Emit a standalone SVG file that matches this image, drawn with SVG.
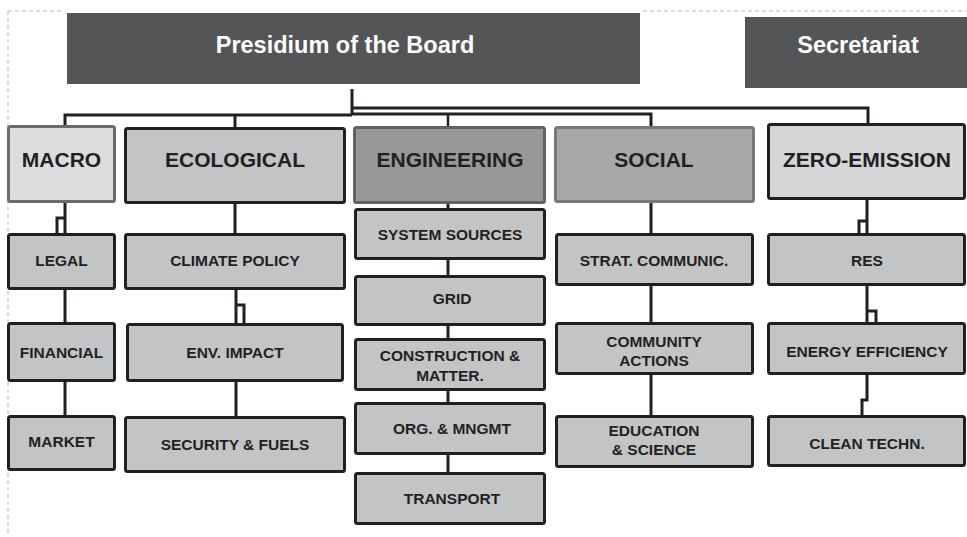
<svg xmlns="http://www.w3.org/2000/svg" width="967" height="537" viewBox="0 0 967 537">
<style>
text{font-family:"Liberation Sans",Arial,sans-serif;font-weight:bold;fill:#231f20;text-anchor:middle}
.top rect{fill:#545557}
.top text{fill:#fff;font-size:23.5px}
.cat text{font-size:21px}
.sub rect{fill:#c3c4c6;stroke:#231f20;stroke-width:3}
.sub text{font-size:15.5px}
.cat rect{stroke-width:3}
#conn path{fill:none;stroke:#231f20;stroke-width:3}
.border{fill:none;stroke:#b5b5b5;stroke-width:1;stroke-dasharray:4 3}
</style>
<rect width="967" height="537" fill="#fff"/>
<path class="border" d="M8,11 H63 M643,11 H967 M8,11 V533"/>
<g id="conn">
<path d="M352,89 V115"/>
<path d="M65,126 V115 H352"/>
<path d="M235,115 V128"/>
<path d="M352,114 H651 V127"/>
<path d="M448,114 V127" style="stroke-width:2.5"/>
<path d="M352,108 H868 V124"/>
<path d="M65,203 V234 M57,234 V218 H65"/>
<path d="M65,290 V323 M65,382 V416"/>
<path d="M235,204 V234 M236,290 V324 M236,305 H244 V324 M236,382 V417"/>
<path d="M448,204 V209 M448,260 V276 M448,326 V339 M448,391 V403 M448,455 V473"/>
<path d="M651,203 V234 M651,286 V323 M651,375 V416"/>
<path d="M867,200 V234 M859,234 V221 H867 M867,286 V323 M867,311 H876 V323 M867,375 V400 H862 V416"/>
</g>
<g id="presidium" class="top"><rect x="67" y="13" width="573" height="71"/><text x="345" y="53">Presidium of the Board</text></g>
<g id="secretariat" class="top"><rect x="745" y="17" width="222" height="71"/><text x="858" y="53">Secretariat</text></g>
<g id="macro" class="cat"><rect x="8.5" y="126.5" width="106" height="75" rx="2" fill="#dcdddf" stroke="#6b6c6e"/><text x="61.5" y="167">MACRO</text></g>
<g id="ecological" class="cat"><rect x="125.5" y="128.5" width="219" height="74" rx="2" fill="#c3c4c6" stroke="#231f20"/><text x="235" y="167">ECOLOGICAL</text></g>
<g id="engineering" class="cat"><rect x="354.5" y="127.5" width="190" height="75" rx="2" fill="#97989a" stroke="#606163"/><text x="450" y="167">ENGINEERING</text></g>
<g id="social" class="cat"><rect x="555.5" y="127.5" width="198" height="74" rx="2" fill="#a7a8aa" stroke="#77787a"/><text x="654" y="167">SOCIAL</text></g>
<g id="zero-emission" class="cat"><rect x="768.5" y="124.5" width="196" height="74" rx="2" fill="#d5d6d8" stroke="#231f20"/><text x="867" y="167">ZERO-EMISSION</text></g>
<g id="legal" class="sub"><rect x="8.5" y="234.5" width="106" height="54" rx="2"/><text x="61.5" y="266">LEGAL</text></g>
<g id="financial" class="sub"><rect x="8.5" y="323.5" width="106" height="57" rx="2"/><text x="61.5" y="358">FINANCIAL</text></g>
<g id="market" class="sub"><rect x="8.5" y="416.5" width="106" height="53" rx="2"/><text x="61.5" y="447">MARKET</text></g>
<g id="climate-policy" class="sub"><rect x="125.5" y="234.5" width="219" height="54" rx="2"/><text x="235" y="266">CLIMATE POLICY</text></g>
<g id="env-impact" class="sub"><rect x="127.5" y="324.5" width="215" height="56" rx="2"/><text x="235" y="358">ENV. IMPACT</text></g>
<g id="security-fuels" class="sub"><rect x="125.5" y="417.5" width="219" height="54" rx="2"/><text x="235" y="450">SECURITY &amp; FUELS</text></g>
<g id="system-sources" class="sub"><rect x="355.5" y="209.5" width="189" height="49" rx="2"/><text x="450" y="240">SYSTEM SOURCES</text></g>
<g id="grid" class="sub"><rect x="355.5" y="276.5" width="189" height="48" rx="2"/><text x="452" y="304">GRID</text></g>
<g id="construction" class="sub"><rect x="355.5" y="339.5" width="189" height="50" rx="2"/><text x="450" y="361">CONSTRUCTION &amp;</text><text x="450" y="381">MATTER.</text></g>
<g id="org-mngmt" class="sub"><rect x="355.5" y="403.5" width="189" height="50" rx="2"/><text x="452" y="434">ORG. &amp; MNGMT</text></g>
<g id="transport" class="sub"><rect x="355.5" y="473.5" width="189" height="50" rx="2"/><text x="452" y="504">TRANSPORT</text></g>
<g id="strat-communic" class="sub"><rect x="556.5" y="234.5" width="196" height="50" rx="2"/><text x="654" y="266">STRAT. COMMUNIC.</text></g>
<g id="community-actions" class="sub"><rect x="556.5" y="323.5" width="196" height="50" rx="2"/><text x="654" y="347">COMMUNITY</text><text x="654" y="366">ACTIONS</text></g>
<g id="education-science" class="sub"><rect x="556.5" y="416.5" width="196" height="50" rx="2"/><text x="654" y="436">EDUCATION</text><text x="654" y="455">&amp; SCIENCE</text></g>
<g id="res" class="sub"><rect x="768.5" y="234.5" width="196" height="50" rx="2"/><text x="867" y="266">RES</text></g>
<g id="energy-efficiency" class="sub"><rect x="768.5" y="323.5" width="196" height="50" rx="2"/><text x="867" y="357">ENERGY EFFICIENCY</text></g>
<g id="clean-techn" class="sub"><rect x="768.5" y="416.5" width="196" height="49" rx="2"/><text x="867" y="449">CLEAN TECHN.</text></g>
</svg>
